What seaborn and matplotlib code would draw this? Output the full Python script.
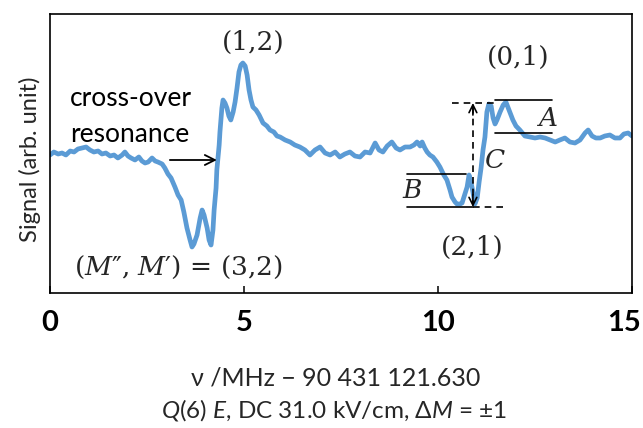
import matplotlib
matplotlib.use("Agg")
import matplotlib.pyplot as plt
import matplotlib.transforms as mtransforms
import seaborn as sns
import pandas as pd

# Frequency offset (MHz) and signal (arb. unit) of the Q(6) E spectrum
freq = [0.00, 0.10, 0.21, 0.31, 0.41, 0.52, 0.62, 0.72, 0.82, 0.93,
        1.03, 1.13, 1.24, 1.34, 1.44, 1.55, 1.65, 1.75, 1.86, 1.93,
        2.01, 2.09, 2.19, 2.29, 2.37, 2.45, 2.53, 2.63, 2.71, 2.78,
        2.89, 2.96, 3.04, 3.12, 3.22, 3.30, 3.38, 3.45, 3.53, 3.61,
        3.66, 3.71, 3.79, 3.87, 3.92, 3.97, 4.05, 4.10, 4.15, 4.20,
        4.23, 4.28, 4.30, 4.33, 4.36, 4.38, 4.41, 4.43, 4.46, 4.51,
        4.56, 4.61, 4.66, 4.72, 4.77, 4.82, 4.87, 4.92, 4.97, 5.03,
        5.08, 5.13, 5.18, 5.23, 5.31, 5.39, 5.49, 5.59, 5.67, 5.77,
        5.85, 5.93, 6.06, 6.19, 6.31, 6.44, 6.57, 6.70, 6.83, 6.96,
        7.09, 7.22, 7.35, 7.47, 7.60, 7.73, 7.86, 7.99, 8.12, 8.25,
        8.38, 8.48, 8.58, 8.69, 8.81, 8.92, 9.02, 9.15, 9.28, 9.38,
        9.46, 9.54, 9.59, 9.66, 9.72, 9.79, 9.87, 9.97, 10.05, 10.15,
        10.23, 10.31, 10.36, 10.44, 10.49, 10.57, 10.62, 10.70, 10.75, 10.80,
        10.85, 10.90, 10.95, 11.01, 11.06, 11.11, 11.16, 11.21, 11.26, 11.31,
        11.37, 11.42, 11.47, 11.52, 11.60, 11.68, 11.75, 11.83, 11.93, 12.01,
        12.11, 12.24, 12.37, 12.50, 12.63, 12.76, 12.89, 13.02, 13.14, 13.27,
        13.40, 13.53, 13.66, 13.79, 13.87, 13.97, 14.07, 14.18, 14.30, 14.43,
        14.56, 14.69, 14.79, 14.90, 15.00]

signal = [0.00, 0.03, 0.01, 0.02, 0.00, 0.04, 0.03, 0.06, 0.07, 0.08,
          0.05, 0.03, 0.04, 0.01, 0.02, -0.01, 0.00, -0.03, 0.00, 0.03,
          -0.01, -0.03, -0.05, -0.02, -0.06, -0.08, -0.07, -0.03, -0.06, -0.07,
          -0.09, -0.13, -0.19, -0.23, -0.32, -0.40, -0.45, -0.57, -0.73, -0.85,
          -0.92, -0.89, -0.80, -0.63, -0.55, -0.60, -0.73, -0.85, -0.90, -0.75,
          -0.55, -0.33, -0.15, -0.03, 0.10, 0.23, 0.37, 0.47, 0.55, 0.52,
          0.47, 0.39, 0.35, 0.43, 0.53, 0.67, 0.83, 0.90, 0.92, 0.89,
          0.80, 0.65, 0.55, 0.48, 0.45, 0.40, 0.32, 0.29, 0.25, 0.23,
          0.19, 0.18, 0.15, 0.13, 0.10, 0.08, 0.05, 0.00, 0.05, 0.08,
          0.02, 0.00, 0.03, -0.02, 0.01, 0.03, -0.01, -0.02, 0.03, 0.02,
          0.12, 0.05, 0.03, 0.09, 0.13, 0.07, 0.05, 0.08, 0.08, 0.10,
          0.13, 0.09, 0.13, 0.07, 0.03, 0.00, -0.02, -0.07, -0.12, -0.20,
          -0.25, -0.35, -0.42, -0.47, -0.49, -0.49, -0.48, -0.38, -0.32, -0.20,
          -0.27, -0.37, -0.49, -0.43, -0.27, -0.13, 0.05, 0.18, 0.43, 0.51,
          0.49, 0.37, 0.31, 0.35, 0.43, 0.50, 0.53, 0.45, 0.35, 0.29,
          0.25, 0.19, 0.18, 0.17, 0.18, 0.17, 0.15, 0.13, 0.15, 0.17,
          0.13, 0.12, 0.15, 0.22, 0.25, 0.19, 0.17, 0.17, 0.19, 0.20,
          0.17, 0.17, 0.21, 0.22, 0.19]

tick_values = [0, 5, 10, 15]
tick_labels = ["0", "5", "10", "15"]

BLUE = "#5b9bd5"
SANS = ["Lato", "DejaVu Sans"]
SERIF = "DejaVu Serif"

sns.set_theme(style="white")
plt.rcParams["font.family"] = SANS
plt.rcParams["mathtext.fontset"] = "custom"
plt.rcParams["mathtext.rm"] = "Lato"
plt.rcParams["mathtext.it"] = "Lato:italic"
plt.rcParams["mathtext.cal"] = "DejaVu Serif:italic"

df = pd.DataFrame({"freq": freq, "signal": signal})

fig = plt.figure(figsize=(6.43, 4.28), dpi=100)
ax = fig.add_axes([50 / 643, 1 - 293 / 428, 582 / 643, 279 / 428])

sns.lineplot(data=df, x="freq", y="signal", ax=ax, color=BLUE,
             lw=3.4, solid_capstyle="round", solid_joinstyle="round")

ax.set_xlim(0, 15)
ax.set_ylim(-1.38, 1.41)
ax.set_xlabel("")
ax.set_ylabel("")
ax.set_yticks([])
ax.set_xticks(tick_values)
ax.set_xticklabels(tick_labels, fontweight="bold", fontsize=21)
ax.tick_params(axis="x", direction="in", length=5, width=1.1, pad=12,
               colors="black", bottom=True)
# keep the last label inside the figure edge
last = ax.get_xticklabels()[-1]
last.set_transform(last.get_transform() +
                   mtransforms.ScaledTranslation(-8 / 100, 0, fig.dpi_scale_trans))
for sp in ax.spines.values():
    sp.set_color("black")
    sp.set_linewidth(1.2)

# Cross-over resonance label and arrow
ax.text(0.52, 0.57, "cross-over", fontsize=19, ha="left", va="center", color="black")
ax.text(0.52, 0.20, "resonance", fontsize=19, ha="left", va="center", color="black")
ax.annotate("", xy=(4.30, -0.05), xytext=(3.09, -0.05),
            arrowprops=dict(arrowstyle="->", lw=1.3, color="black",
                            mutation_scale=18, shrinkA=0, shrinkB=0))

# Transition labels (M'', M')
ax.text(5.23, 1.13, "(1,2)", family=SERIF, fontsize=19, ha="center", va="center")
ax.text(3.30, -1.12, "($\\mathcal{M}$″, $\\mathcal{M}$′) = (3,2)", family=SERIF,
        fontsize=19, ha="center", va="center")
ax.text(12.06, 0.98, "(0,1)", family=SERIF, fontsize=19, ha="center", va="center")
ax.text(10.88, -0.92, "(2,1)", family=SERIF, fontsize=19, ha="center", va="center")

# Amplitude markers A, B, C
ax.plot([11.47, 12.94], [0.55, 0.55], color="black", lw=1.2)
ax.plot([11.47, 12.94], [0.22, 0.22], color="black", lw=1.2)
ax.text(12.83, 0.37, "A", family=SERIF, style="italic", fontsize=19,
        ha="center", va="center")
ax.plot([9.20, 10.72], [-0.19, -0.19], color="black", lw=1.2)
ax.plot([9.20, 10.90], [-0.52, -0.52], color="black", lw=1.2)
ax.text(9.33, -0.35, "B", family=SERIF, style="italic", fontsize=19,
        ha="center", va="center")
ax.plot([10.36, 11.44], [0.52, 0.52], color="black", lw=1.2, ls=(0, (4, 3)))
ax.plot([10.90, 11.68], [-0.52, -0.52], color="black", lw=1.2, ls=(0, (4, 3)))
ax.plot([10.90, 10.90], [0.48, -0.48], color="black", lw=1.2, ls=(0, (4, 3)))
for y0, y1 in [(0.40, 0.52), (-0.40, -0.52)]:
    ax.annotate("", xy=(10.90, y1), xytext=(10.90, y0),
                arrowprops=dict(arrowstyle="->", lw=1.2, color="black",
                                mutation_scale=14, shrinkA=0, shrinkB=0))
ax.text(11.47, -0.05, "C", family=SERIF, style="italic", fontsize=19,
        ha="center", va="center")

# Axis titles
fig.text(30 / 643, 1 - 159 / 428, "Signal (arb. unit)", rotation=90,
         fontsize=17, ha="center", va="center")
fig.text(336 / 643, 1 - 378 / 428, "ν /MHz − 90 431 121.630",
         fontsize=18, ha="center", va="center")
fig.text(334 / 643, 1 - 410 / 428, "$Q$(6) $E$, DC 31.0 kV/cm, Δ$M$ = ±1",
         fontsize=17.5, ha="center", va="center")

fig.savefig("out.png", dpi=100)
